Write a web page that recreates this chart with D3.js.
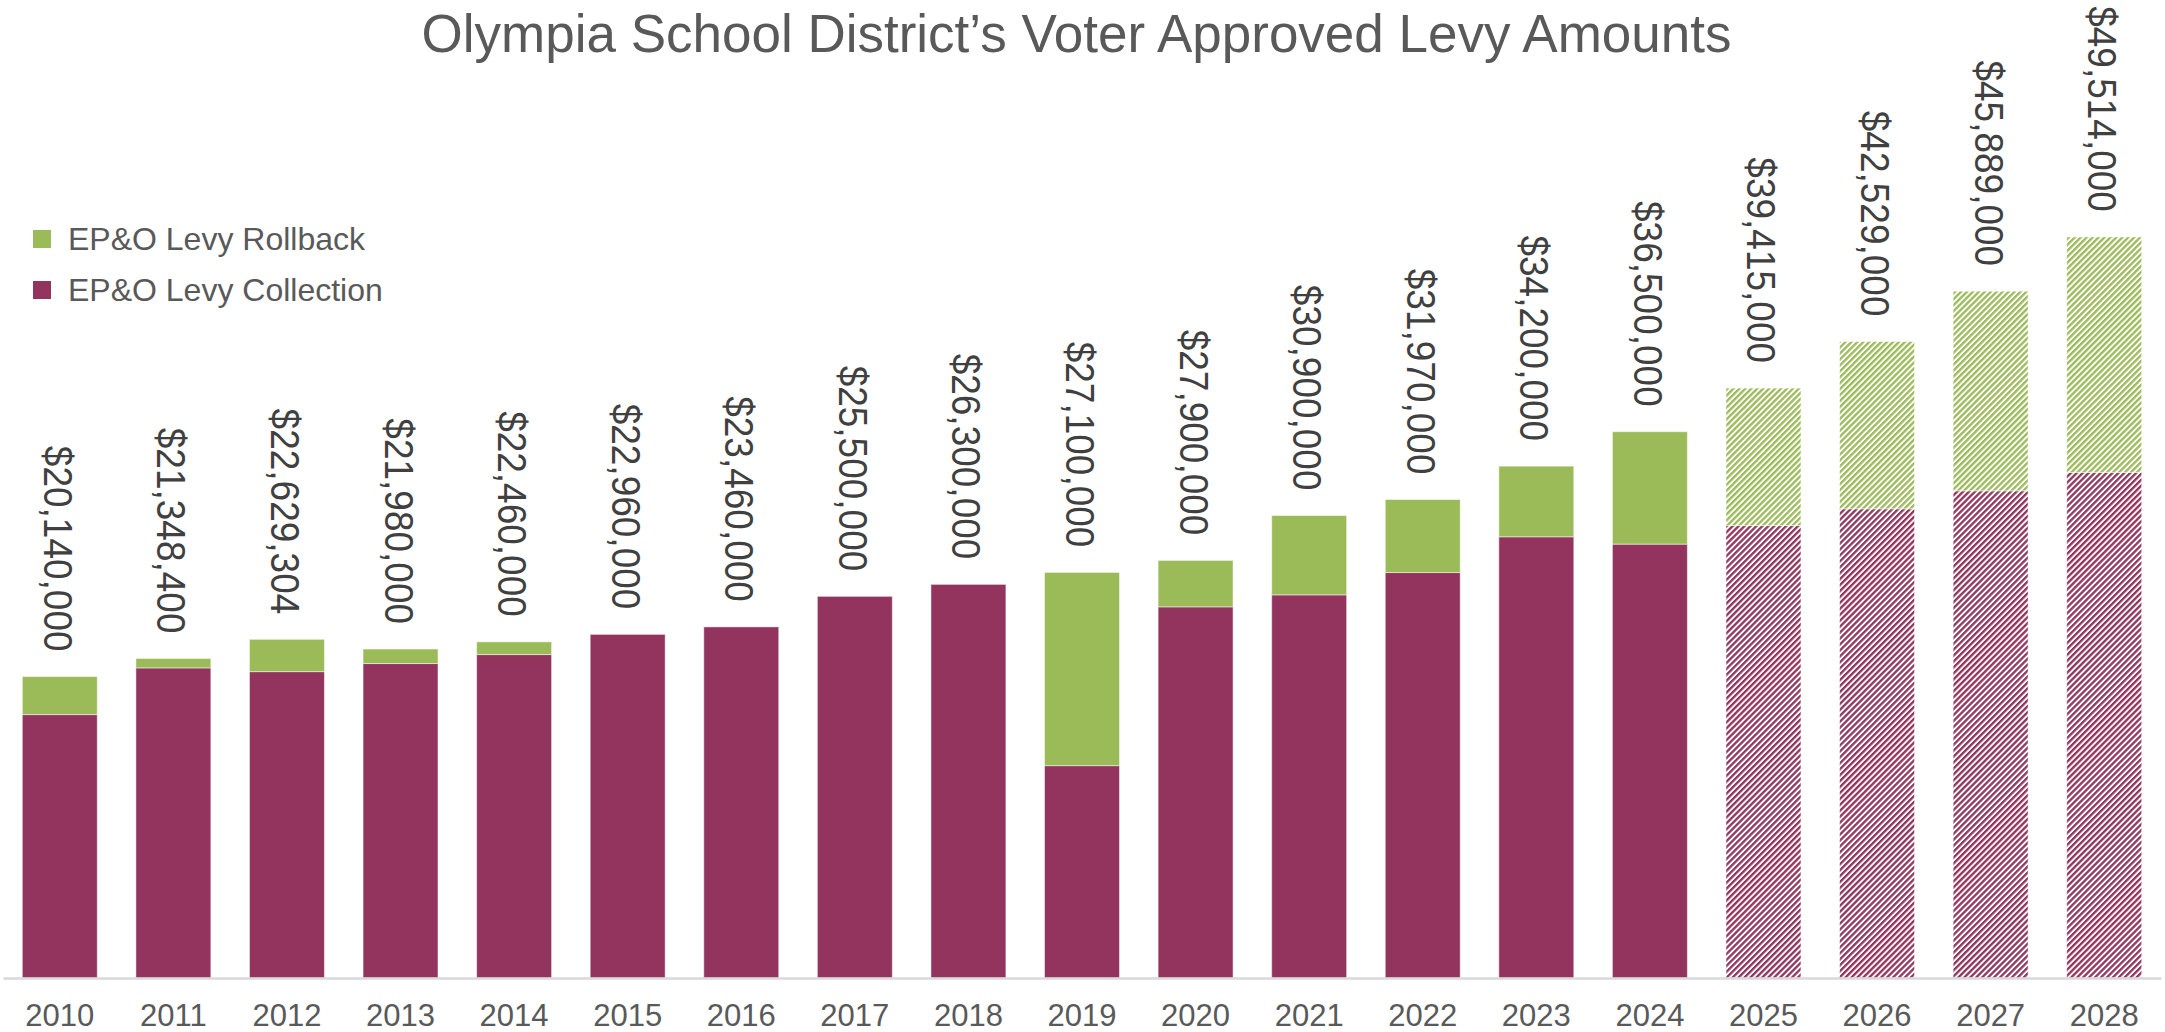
<!DOCTYPE html>
<html>
<head>
<meta charset="utf-8">
<script src="https://cdn.jsdelivr.net/npm/d3@7"></script>
<style>
  body { margin: 0; background: #fff; }
  svg { display: block; font-family: "Liberation Sans", Arial, sans-serif; }
</style>
</head>
<body>
<svg id="chart" width="2165" height="1032"></svg>
<script>
// Levy data
const years = ['2010', '2011', '2012', '2013', '2014', '2015', '2016', '2017', '2018', '2019',
  '2020', '2021', '2022', '2023', '2024', '2025', '2026', '2027', '2028'];
const collection = [17600000, 20720000, 20470000, 21010000, 21610000, 22960000, 23460000, 25500000,
  26300000, 14190000, 24800000, 25600000, 27090000, 29480000, 28990000, 30230000, 31350000,
  32550000, 33780000];
const rollback = [2540000, 628400, 2159304, 970000, 850000, 0, 0, 0, 0, 12910000, 3100000,
  5300000, 4880000, 4720000, 7510000, 9185000, 11179000, 13339000, 15734000];
const approved = [20140000, 21348400, 22629304, 21980000, 22460000, 22960000, 23460000, 25500000,
  26300000, 27100000, 27900000, 30900000, 31970000, 34200000, 36500000, 39415000, 42529000,
  45889000, 49514000];
const projectedYears = ['2025', '2026', '2027', '2028'];
const seriesNames = ['EP&O Levy Rollback', 'EP&O Levy Collection'];

const colors = { collection: '#92345d', rollback: '#9bbb59' };
const textColor = '#595959';

const svg = d3.select('#chart');
const width = 2165;
const axisY = 978;

const x = d3.scaleBand().domain(years).range([3, 2161]).paddingInner(0.34).paddingOuter(0.17);
const y = d3.scaleLinear().domain([0, 60000000]).range([axisY, 80]);

// Hatch patterns for projected years
const defs = svg.append('defs');
const addHatch = (id, color) => {
  const p = defs.append('pattern')
    .attr('id', id)
    .attr('patternUnits', 'userSpaceOnUse')
    .attr('width', 4.2)
    .attr('height', 4.2)
    .attr('patternTransform', 'rotate(45)');
  p.append('rect').attr('width', 4.2).attr('height', 4.2).attr('fill', '#fff');
  p.append('rect').attr('width', 2.3).attr('height', 4.2).attr('fill', color);
};
addHatch('hatch-collection', colors.collection);
addHatch('hatch-rollback', colors.rollback);

const rows = years.map((yr, i) => ({
  year: yr,
  collection: collection[i],
  rollback: rollback[i],
  approved: approved[i],
  projected: projectedYears.includes(yr),
}));

const stack = d3.stack().keys(['collection', 'rollback'])(rows);

// Bars
svg.append('g')
  .selectAll('g')
  .data(stack)
  .join('g')
  .each(function (layer) {
    d3.select(this)
      .selectAll('rect')
      .data(layer.filter((d) => d[1] > d[0]))
      .join('rect')
      .attr('x', (d) => x(d.data.year))
      .attr('width', x.bandwidth())
      .attr('y', (d) => y(d[1]))
      .attr('height', (d) => y(d[0]) - y(d[1]))
      .attr('fill', (d) => (d.data.projected ? `url(#hatch-${layer.key})` : colors[layer.key]))
      .attr('stroke', 'rgba(255,255,255,0.5)')
      .attr('stroke-width', 1);
  });

// Axis
const xAxis = svg.append('g')
  .attr('transform', `translate(0,${axisY})`)
  .call(d3.axisBottom(x).tickSize(0).tickSizeOuter(0).tickPadding(26));
xAxis.select('.domain').attr('stroke', '#d9d9d9').attr('stroke-width', 2.5);
xAxis.selectAll('text')
  .attr('font-family', '"Liberation Sans", Arial, sans-serif')
  .attr('font-size', 31)
  .attr('fill', textColor);

// Total labels, rotated
svg.append('g')
  .selectAll('text')
  .data(rows)
  .join('text')
  .attr('transform', (d) => `translate(${x(d.year) + x.bandwidth() / 2 - 2},${y(d.approved) - 25}) rotate(90) scale(1,1.08)`)
  .attr('text-anchor', 'end')
  .attr('dominant-baseline', 'central')
  .attr('font-size', 37)
  .attr('fill', '#404040')
  .text((d) => d3.format('$,')(d.approved));

// Title
svg.append('text')
  .attr('x', width / 2 - 6)
  .attr('y', 52)
  .attr('text-anchor', 'middle')
  .attr('font-size', 53)
  .attr('fill', textColor)
  .text('Olympia School District’s Voter Approved Levy Amounts');

// Legend
const legend = svg.append('g')
  .selectAll('g')
  .data(seriesNames)
  .join('g')
  .attr('transform', (d, i) => `translate(33,${239 + i * 51})`);
legend.append('rect')
  .attr('y', -9)
  .attr('width', 18)
  .attr('height', 18)
  .attr('fill', (d, i) => (i === 0 ? colors.rollback : colors.collection));
legend.append('text')
  .attr('x', 35)
  .attr('y', 11)
  .attr('font-size', 32)
  .attr('fill', textColor)
  .text((d) => d);
</script>
</body>
</html>
